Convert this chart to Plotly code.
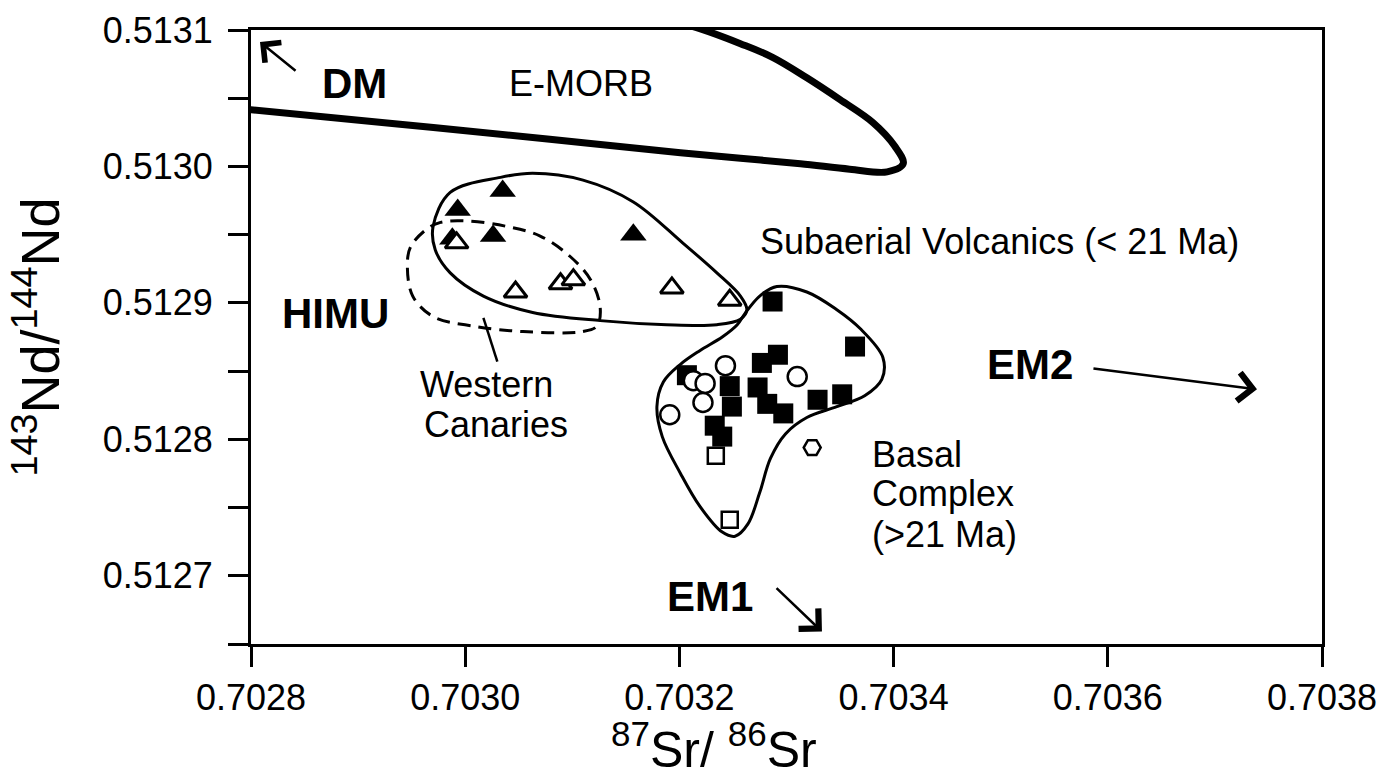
import plotly.graph_objects as go

# ---------------- data ----------------
# Field outlines (87Sr/86Sr, 143Nd/144Nd)
emorb_sr = [0.702794, 0.702939, 0.703079, 0.703201, 0.703257, 0.703313, 0.703359, 0.703394,
            0.703409, 0.703401, 0.703381, 0.703350, 0.703319, 0.703287, 0.703257, 0.703219, 0.703201]
emorb_nd = [0.513042, 0.513031, 0.513020, 0.513010, 0.513006, 0.513002, 0.512998, 0.512996,
            0.513002, 0.513015, 0.513032, 0.513049, 0.513065, 0.513080, 0.513090, 0.513101, 0.513105]

subaerial_sr = [0.703188, 0.703235, 0.703257, 0.703263, 0.703257, 0.703235, 0.703203, 0.703157,
                0.703110, 0.703063, 0.703033, 0.702986, 0.702970, 0.702972, 0.702986, 0.703017,
                0.703063, 0.703126, 0.703188]
subaerial_nd = [0.512884, 0.512884, 0.512888, 0.512895, 0.512905, 0.512922, 0.512944, 0.512974,
                0.512990, 0.512995, 0.512992, 0.512981, 0.512956, 0.512939, 0.512922, 0.512905,
                0.512893, 0.512887, 0.512884]

wcan_sr = [0.703054, 0.703110, 0.703123, 0.703126, 0.703117, 0.703098, 0.703070, 0.703039,
           0.703002, 0.702977, 0.702964, 0.702949, 0.702946, 0.702951, 0.702970, 0.703007, 0.703054]
wcan_nd = [0.512879, 0.512879, 0.512883, 0.512897, 0.512917, 0.512934, 0.512949, 0.512956,
           0.512960, 0.512959, 0.512954, 0.512941, 0.512927, 0.512905, 0.512890, 0.512883, 0.512879]

basal_sr = [0.703219, 0.703240, 0.703254, 0.703261, 0.703275, 0.703291, 0.703319, 0.703347,
            0.703369, 0.703390, 0.703389, 0.703373, 0.703347, 0.703319, 0.703299, 0.703285,
            0.703275, 0.703264, 0.703252, 0.703240, 0.703219, 0.703201, 0.703184, 0.703179,
            0.703185, 0.703201, 0.703219]
basal_nd = [0.512865, 0.512875, 0.512884, 0.512892, 0.512905, 0.512912, 0.512908, 0.512895,
            0.512881, 0.512860, 0.512844, 0.512832, 0.512824, 0.512816, 0.512804, 0.512786,
            0.512761, 0.512738, 0.512729, 0.512732, 0.512751, 0.512775, 0.512802, 0.512824,
            0.512842, 0.512855, 0.512865]

leader_sr = [0.703017, 0.703030]
leader_nd = [0.512889, 0.512857]

# Samples
tri_fill_sr = [0.702993, 0.703035, 0.703026, 0.703157, 0.702988]
tri_fill_nd = [0.512968, 0.512982, 0.512949, 0.512950, 0.512947]

tri_open_sr = [0.702992, 0.703047, 0.703089, 0.703101, 0.703193, 0.703247]
tri_open_nd = [0.512944, 0.512908, 0.512914, 0.512917, 0.512911, 0.512902]

sq_fill_sr = [0.703287, 0.703364, 0.703292, 0.703277, 0.703207, 0.703247, 0.703273,
              0.703249, 0.703282, 0.703297, 0.703329, 0.703352, 0.703233, 0.703240]
sq_fill_nd = [0.512901, 0.512868, 0.512862, 0.512856, 0.512847, 0.512839, 0.512838,
              0.512824, 0.512826, 0.512819, 0.512829, 0.512833, 0.512810, 0.512802]

circ_open_sr = [0.703243, 0.703213, 0.703224, 0.703222, 0.703191, 0.703310]
circ_open_nd = [0.512854, 0.512843, 0.512841, 0.512827, 0.512818, 0.512846]

sq_open_sr = [0.703234, 0.703247]
sq_open_nd = [0.512788, 0.512741]

hex_open_sr = [0.703324]
hex_open_nd = [0.512794]

x_ticks = [0.7028, 0.7030, 0.7032, 0.7034, 0.7036, 0.7038]
y_ticks = [0.5127, 0.5128, 0.5129, 0.5130, 0.5131]

# ---------------- figure ----------------
FONT = "Liberation Sans, Arial, Helvetica, sans-serif"
BLACK = "black"
TXT = 36
BOLD = 42

fig = go.Figure()

def outline(xs, ys, width=3, dash="solid"):
    fig.add_trace(go.Scatter(x=xs, y=ys, mode="lines",
                             line=dict(color=BLACK, width=width, dash=dash,
                                       shape="spline", smoothing=1.0),
                             hoverinfo="skip", showlegend=False))

outline(emorb_sr, emorb_nd, width=7)
outline(subaerial_sr, subaerial_nd, width=3)
outline(wcan_sr, wcan_nd, width=3, dash="13px,8px")
outline(basal_sr, basal_nd, width=3)
fig.add_trace(go.Scatter(x=leader_sr, y=leader_nd, mode="lines",
                         line=dict(color=BLACK, width=2.5), showlegend=False, hoverinfo="skip"))

def pts(xs, ys, symbol, size, fill, lw):
    fig.add_trace(go.Scatter(x=xs, y=ys, mode="markers", showlegend=False,
                             marker=dict(symbol=symbol, size=size, color=fill,
                                         line=dict(color=BLACK, width=lw))))

pts(tri_fill_sr, tri_fill_nd, "triangle-up", 23, BLACK, 0)
pts(tri_open_sr, tri_open_nd, "triangle-up", 20, "white", 3)
pts(sq_fill_sr, sq_fill_nd, "square", 20, BLACK, 0)
pts(circ_open_sr, circ_open_nd, "circle", 19, "white", 2.5)
pts(sq_open_sr, sq_open_nd, "square", 16, "white", 2.5)
pts(hex_open_sr, hex_open_nd, "hexagon2", 17, "white", 2.5)

# Text labels
def label(x, y, text, size=TXT, bold=False, xanchor="center"):
    fig.add_annotation(x=x, y=y, xref="x", yref="y", text=f"<b>{text}</b>" if bold else text,
                       showarrow=False, xanchor=xanchor, yanchor="middle",
                       font=dict(family=FONT, size=size, color=BLACK))

label(0.702897, 0.5130605, "DM", size=BOLD, bold=True)
label(0.703108, 0.5130605, "E-MORB")
label(0.703499, 0.512945, "Subaerial Volcanics (&lt; 21 Ma)")
label(0.702879, 0.512892, "HIMU", size=BOLD, bold=True)
label(0.703020, 0.512840, "Western")
label(0.703029, 0.512811, "Canaries")
label(0.703527, 0.512855, "EM2", size=BOLD, bold=True)
label(0.7033775, 0.512789, "Basal", xanchor="left")
label(0.7033775, 0.512760, "Complex", xanchor="left")
label(0.7033775, 0.512730, "(&gt;21 Ma)", xanchor="left")
label(0.703229, 0.5126846, "EM1", size=BOLD, bold=True)

# Arrows toward end-members
def arrow(x0, y0, x1, y1, size=2.2):
    fig.add_annotation(x=x1, y=y1, ax=x0, ay=y0, xref="x", yref="y", axref="x", ayref="y",
                       text="", showarrow=True, arrowhead=4, arrowsize=size,
                       arrowwidth=2.5, arrowcolor=BLACK)

arrow(0.702843, 0.5130693, 0.7028084, 0.5130912, 2.0)   # DM
arrow(0.7035852, 0.5128521, 0.7037393, 0.5128367)       # EM2
arrow(0.7032893, 0.5126920, 0.7033331, 0.5126591)       # EM1

# x-axis title, placed below the tick labels (slightly left of centre as in the original)
fig.add_annotation(x=0.432, y=-0.166, xref="paper", yref="paper", showarrow=False,
                   xanchor="center", yanchor="middle",
                   text="<sup>87</sup>Sr/ <sup>86</sup>Sr",
                   font=dict(family=FONT, size=50, color=BLACK))

axis_common = dict(showline=True, linecolor=BLACK, linewidth=3, mirror=True,
                   ticks="outside", ticklen=20, tickwidth=2.5, tickcolor=BLACK,
                   showgrid=False, zeroline=False, tickformat=".4f", automargin=False,
                   ticklabeloverflow="allow",
                   tickfont=dict(family=FONT, size=TXT, color=BLACK))

fig.update_xaxes(range=[0.7028, 0.7038], tickvals=x_ticks, **axis_common)
fig.update_yaxes(range=[0.51265, 0.5131], tickvals=y_ticks, ticklabelstandoff=8,
                 minor=dict(dtick=0.00005, tick0=0.5127, ticks="outside", ticklen=20,
                            tickwidth=2.5, tickcolor=BLACK, showgrid=False),
                 title=dict(text="<sup>143</sup>Nd/<sup>144</sup>Nd",
                            font=dict(family=FONT, size=54, color=BLACK), standoff=26),
                 **axis_common)

fig.update_layout(width=1379, height=783, autosize=False,
                  margin=dict(l=251, r=57, t=30, b=139),
                  plot_bgcolor="white", paper_bgcolor="white",
                  font=dict(family=FONT, color=BLACK), showlegend=False)

# remove the default 8px page margin so the figure fills the window exactly
fig.write_html("out.html", config={"displayModeBar": False},
               post_script="document.body.style.margin='0';document.body.style.overflow='hidden';")
